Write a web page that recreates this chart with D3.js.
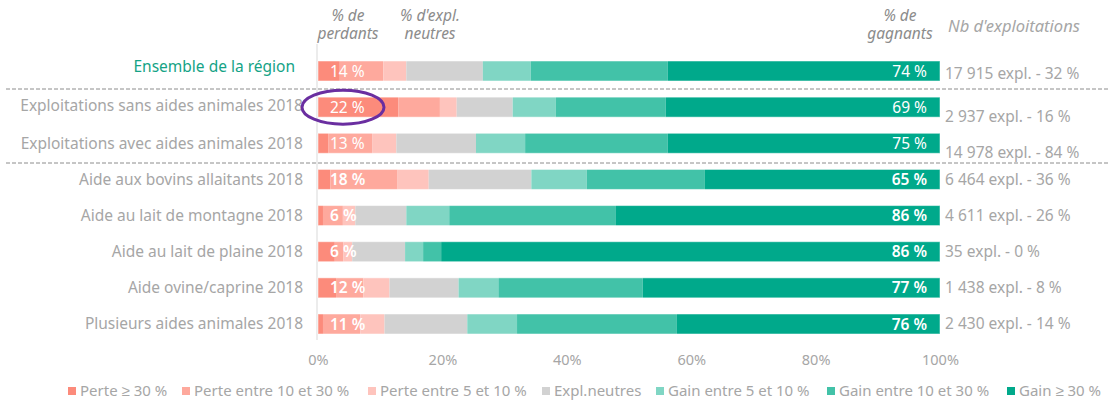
<!DOCTYPE html>
<html>
<head>
<meta charset="utf-8">
<script src="https://cdn.jsdelivr.net/npm/d3@7/dist/d3.min.js"></script>
<style>
  body { margin: 0; background: #fff; }
  text { font-family: "Noto Sans", sans-serif; }
</style>
</head>
<body>
<svg id="chart" width="1110" height="401"></svg>
<script>
// Data
var categories = ["Ensemble de la région", "Exploitations sans aides animales 2018", "Exploitations avec aides animales 2018",
  "Aide aux bovins allaitants 2018", "Aide au lait de montagne 2018", "Aide au lait de plaine 2018",
  "Aide ovine/caprine 2018", "Plusieurs aides animales 2018"];
var perte30 = [3.5, 12.9, 1.7, 2.0, 0.8, 2.7, 2.9, 0.8];
var perte10_30 = [7.0, 6.7, 7.0, 10.8, 3.2, 1.4, 4.4, 6.0];
var perte5_10 = [3.7, 2.7, 3.9, 5.0, 2.0, 1.4, 4.2, 3.9];
var neutres = [12.3, 9.0, 12.8, 16.5, 8.2, 8.5, 11.1, 13.3];
var gain5_10 = [7.7, 6.9, 7.9, 8.9, 6.9, 2.9, 6.4, 8.0];
var gain10_30 = [22.0, 17.7, 22.9, 19.0, 26.8, 2.9, 23.2, 25.7];
var gain30 = [43.8, 44.1, 43.8, 37.8, 52.1, 80.2, 47.8, 42.3];
var lossLabels = ["14 %", "22 %", "13 %", "18 %", "6 %", "6 %", "12 %", "11 %"];
var gainLabels = ["74 %", "69 %", "75 %", "65 %", "86 %", "86 %", "77 %", "76 %"];
var countLabels = ["17 915 expl. - 32 %", "2 937 expl. - 16 %", "14 978 expl. - 84 %", "6 464 expl. - 36 %",
  "4 611 expl. - 26 %", "35 expl. - 0 %", "1 438 expl. - 8 %", "2 430 expl. - 14 %"];
var seriesNames = ["Perte ≥ 30 %", "Perte entre 10 et 30 %", "Perte entre 5 et 10 %", "Expl.neutres",
  "Gain entre 5 et 10 %", "Gain entre 10 et 30 %", "Gain ≥ 30 %"];
var xTicks = [0, 20, 40, 60, 80, 100];

var colors = ["#fc8b7b", "#fea99d", "#fec4bd", "#d2d2d2", "#80d6c4", "#42c2a8", "#00a98b"];
var grey = "#a6a6a6";

var keys = d3.range(7);
var table = categories.map(function(c, i) {
  return { cat: c, 0: perte30[i], 1: perte10_30[i], 2: perte5_10[i], 3: neutres[i],
           4: gain5_10[i], 5: gain10_30[i], 6: gain30[i] };
});

var svg = d3.select("svg#chart");
var x = d3.scaleLinear().domain([0, 100]).range([318, 940]);
var y = d3.scalePoint().domain(categories).range([71, 324]);
var barH = 20;

// vertical base line
svg.append("line").attr("x1", 317).attr("x2", 317).attr("y1", 44).attr("y2", 340)
  .attr("stroke", "#d9d9d9").attr("stroke-width", 1);

// separators
[89, 163].forEach(function(yy) {
  svg.append("line").attr("x1", 6).attr("x2", 1110).attr("y1", yy).attr("y2", yy)
    .attr("stroke", "#8c8c8c").attr("stroke-width", 1).attr("stroke-dasharray", "4,2");
});

// stacked bars
var stacked = d3.stack().keys(keys)(table);
svg.append("g").selectAll("g").data(stacked).enter().append("g")
  .attr("fill", function(d, i) { return colors[i]; })
  .selectAll("rect").data(function(d) { return d; }).enter().append("rect")
  .attr("x", function(d) { return x(d[0]); })
  .attr("width", function(d) { return x(d[1]) - x(d[0]); })
  .attr("y", function(d) { return y(d.data.cat) - barH / 2; })
  .attr("height", barH);

// bar outlines
svg.append("g").selectAll("rect").data(categories).enter().append("rect")
  .attr("x", x(0)).attr("width", x(100) - x(0))
  .attr("y", function(d) { return y(d) - barH / 2; }).attr("height", barH)
  .attr("fill", "none").attr("stroke", "#fff").attr("stroke-opacity", 0.5).attr("stroke-width", 1);

// category labels
svg.append("g").selectAll("text").data(categories).enter().append("text")
  .attr("x", function(d, i) { return i == 0 ? 295 : 303; })
  .attr("y", function(d, i) { return y(d) - (i == 0 ? 4 : i == 1 ? 2 : 0); })
  .attr("dy", "0.35em").attr("text-anchor", "end")
  .style("font-size", "15.5px")
  .attr("fill", function(d, i) { return i == 0 ? "#14a386" : grey; })
  .text(function(d) { return d; });

// loss labels
svg.append("g").selectAll("text").data(lossLabels).enter().append("text")
  .attr("x", x(0) + 12)
  .attr("y", function(d, i) { return y(categories[i]); })
  .attr("dy", "0.36em").attr("fill", "#fff")
  .style("font-size", "15.5px").style("font-weight", function(d, i) { return i > 2 ? 600 : 400; })
  .text(function(d) { return d; });

// gain labels
svg.append("g").selectAll("text").data(gainLabels).enter().append("text")
  .attr("x", x(100) - 13).attr("text-anchor", "end")
  .attr("y", function(d, i) { return y(categories[i]); })
  .attr("dy", "0.36em").attr("fill", "#fff")
  .style("font-size", "15.5px").style("font-weight", function(d, i) { return i > 2 ? 600 : 400; })
  .text(function(d) { return d; });

// counts
svg.append("g").selectAll("text").data(countLabels).enter().append("text")
  .attr("x", x(100) + 5)
  .attr("y", function(d, i) { return y(categories[i]) + (i == 0 ? 3 : (i == 1 || i == 2) ? 9 : 0); })
  .attr("dy", "0.35em").attr("fill", grey)
  .style("font-size", "15.5px")
  .text(function(d) { return d; });

// highlight ellipse
svg.append("ellipse").attr("cx", 343).attr("cy", y(categories[1]))
  .attr("rx", 41).attr("ry", 17)
  .attr("fill", "none").attr("stroke", "#6a2ea0").attr("stroke-width", 3);

// headers (two lines each)
function header(lines, cx, cy) {
  lines.forEach(function(l, i) {
    svg.append("text").attr("x", cx).attr("y", cy + i * 18)
      .attr("text-anchor", "middle").attr("fill", "#8c8c8c")
      .style("font-size", "15.5px").style("font-style", "italic").text(l);
  });
}
header(["% de", "perdants"], 348, 21);
header(["% d'expl.", "neutres"], 430, 21);
header(["% de", "gagnants"], 900, 21);
svg.append("text").attr("x", 948).attr("y", 32).attr("fill", grey)
  .style("font-size", "16.5px").style("font-style", "italic").text("Nb d'exploitations");

// x axis
var xAxis = d3.axisBottom(x).tickValues(xTicks).tickSize(0).tickPadding(0)
  .tickFormat(function(d) { return d + "%"; });
var ax = svg.append("g").attr("transform", "translate(0,355)").call(xAxis);
ax.select(".domain").remove();
ax.selectAll("text").attr("fill", grey).style("font-size", "14.5px").style("font-family", "'Noto Sans', sans-serif");

// legend
var legendX = [68, 182, 368, 542, 656, 827, 1007];
var lg = svg.append("g").selectAll("g").data(seriesNames).enter().append("g")
  .attr("transform", function(d, i) { return "translate(" + legendX[i] + ",391)"; });
lg.append("rect").attr("x", 0).attr("y", -4).attr("width", 8).attr("height", 8)
  .attr("fill", function(d, i) { return colors[i]; });
lg.append("text").attr("x", 12).attr("dy", "0.35em").attr("fill", grey)
  .style("font-size", "15px").text(function(d) { return d; });
</script>
</body>
</html>
